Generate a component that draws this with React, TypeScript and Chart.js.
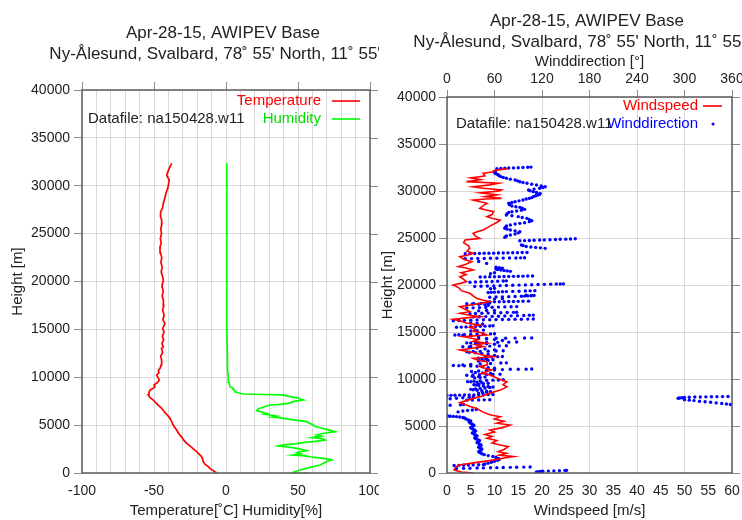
import React, { useEffect, useRef } from 'react';
import { Chart, registerables } from 'chart.js';

Chart.register(...registerables);

const FONT_FAMILY = '"Liberation Sans", Arial, Helvetica, sans-serif';
const TEXT = '#222222';
const GRID = '#d8d8d8';
const TICK = '#8a8a8a';
const FRAME = '#5c5c5c';

// ---------- tick values ----------
const heightTickValues = [0, 5000, 10000, 15000, 20000, 25000, 30000, 35000, 40000];
const tempHumidTickLabels = [-100, -50, 0, 50, 100];
const tempHumidGridValues = [-100, -90, -80, -70, -60, -50, -40, -30, -20, -10, 0, 10, 20, 30, 40, 50, 60, 70, 80, 90, 100];
const windSpeedTickValues = [0, 5, 10, 15, 20, 25, 30, 35, 40, 45, 50, 55, 60];
const windDirTickValues = [0, 60, 120, 180, 240, 300, 360];

// ---------- series: [height m, value] ----------
const temperatureProfile: [number, number][] = [
  [0, -6.5], [150, -8], [300, -9.5], [450, -11], [660, -12.3], [900, -14.5], [1180, -15.8], [1450, -16.2],
  [1700, -16.9], [1950, -18.5], [2230, -20.4], [2500, -22.5], [2800, -24.8], [3100, -27.3], [3400, -29.2],
  [3800, -31], [4100, -32.8], [4490, -34.3], [4800, -35.8], [5100, -37], [5400, -37.8], [5710, -38.9],
  [6000, -40.5], [6300, -42.3], [6760, -44.7], [7000, -46.5], [7300, -48.5], [7620, -50.5], [7850, -52.5],
  [8150, -54], [8400, -53.5], [8670, -52.8], [8850, -50.5], [9020, -49.3], [9200, -50], [9400, -48],
  [9710, -46.3], [9900, -47], [10230, -48.1], [10500, -46.5], [10700, -47], [10930, -45.8], [11300, -45],
  [11800, -44.7], [12200, -45.3], [12600, -44], [13000, -44.8], [13190, -43.5], [13500, -44.5], [13900, -43.3],
  [14300, -44.2], [14700, -43], [15100, -44], [15630, -42.4], [16000, -43.8], [16500, -43], [17000, -44],
  [17500, -43.2], [18070, -43.5], [18500, -44.3], [19000, -43.6], [19500, -44.5], [20160, -43.5], [20500, -44],
  [21000, -45], [21500, -44.3], [22000, -45.2], [22500, -44.6], [23000, -45.5], [23630, -45.8], [24000, -45],
  [24500, -45.6], [25000, -44.8], [25500, -45.3], [26000, -44.5], [26420, -44.7], [26800, -45.5], [27290, -45.4],
  [27700, -44], [28200, -43.5], [28700, -42.5], [29210, -41.7], [29700, -40.5], [30100, -40], [30600, -39.4],
  [30900, -40.5], [31120, -41.2], [31400, -40.5], [31820, -39.4], [32100, -38.5], [32340, -37.7],
];

const humidityProfile: [number, number][] = [
  [0, 58], [20, 46], [150, 48], [310, 51.4], [450, 55], [650, 60], [840, 65.3], [1050, 68], [1200, 70],
  [1360, 73.4], [1450, 71], [1550, 66], [1700, 58.3], [1780, 55], [1880, 46.7], [1980, 52], [2100, 49],
  [2200, 51], [2330, 56], [2450, 53], [2580, 49], [2700, 44], [2820, 36.3], [2950, 40], [3050, 48],
  [3200, 55], [3300, 62], [3450, 68.8], [3600, 67], [3700, 60], [3850, 66], [3970, 63], [4150, 68],
  [4320, 75.7], [4550, 70], [4700, 66], [4850, 62], [5010, 60.6], [5200, 58], [5360, 56], [5450, 52],
  [5540, 46.7], [5650, 42], [5750, 38], [5850, 32], [5950, 35.2], [6060, 30.6], [6150, 26.5], [6230, 28.2],
  [6300, 26], [6400, 24], [6510, 21.3], [6650, 22], [6760, 23.6], [6950, 27], [7100, 30.6], [7150, 36],
  [7270, 43.3], [7350, 45], [7450, 46.7], [7500, 48], [7620, 53.7], [7700, 52], [7850, 50], [7970, 44.4],
  [8050, 42], [8150, 39.8], [8200, 25], [8250, 12], [8350, 9], [8490, 6.25], [8700, 5.5], [8850, 5],
  [9010, 2.8], [9500, 2], [10060, 1.6], [10750, 1], [11800, 1], [15000, 0.6], [20000, 0.6], [25000, 0.5],
  [30000, 0.5], [32340, 0.5],
];

const windSpeedProfile: [number, number][] = [
  [0, 5.5], [100, 3], [320, 1.5], [600, 1.8], [850, 2.5], [1100, 6], [1400, 10], [1600, 12], [1740, 14],
  [1900, 11], [2100, 12.5], [2270, 10.8], [2500, 12], [2800, 12.9], [3000, 11], [3200, 9.5], [3450, 10.5],
  [3690, 8.4], [3900, 9.5], [4100, 8], [4350, 10], [4570, 9], [4800, 11.5], [5100, 13.3], [5300, 10.5],
  [5500, 12], [5750, 10], [5990, 11.2], [6200, 9], [6500, 7.5], [6880, 6.2], [7050, 5], [7230, 4.1],
  [7480, 2.7], [7700, 4], [7940, 5.5], [8200, 7.5], [8480, 9], [8650, 10], [8830, 11.2], [9000, 12],
  [9180, 12.6], [9400, 11.8], [9710, 12.6], [9890, 11.5], [10100, 10.5], [10430, 9], [10600, 7.3],
  [10800, 8.5], [10960, 9.4], [11150, 8], [11310, 6.9], [11500, 8.5], [11840, 8.4], [12000, 6.5],
  [12200, 5.5], [12370, 9.8], [12550, 7.5], [12730, 6.2], [12900, 4.5], [13090, 2.7], [13250, 5],
  [13450, 7.6], [13650, 6], [13800, 8.4], [14000, 5.5], [14200, 6.5], [14500, 3.4], [14680, 8.4],
  [14900, 7.5], [15100, 5.5], [15300, 6], [15500, 4.8], [15740, 6.9], [15950, 4], [16150, 3], [16350, 1.3],
  [16500, 4], [16630, 6.9], [16800, 4.5], [16990, 2.7], [17160, 4.8], [17340, 4.1], [17500, 3.5],
  [17700, 2.7], [17950, 6], [18230, 9], [18400, 7.5], [18580, 6.2], [18850, 5.5], [19120, 4.8], [19400, 3],
  [19700, 2.5], [20000, 1.3], [20200, 3], [20350, 4.1], [20600, 3.5], [20880, 2.7], [21100, 4], [21300, 3],
  [21600, 5.5], [21800, 4], [21950, 2.4], [22200, 4], [22480, 5.2], [22750, 3.5], [23010, 2.7], [23200, 4.5],
  [23370, 5.5], [23600, 4.2], [23900, 4.8], [24200, 4.5], [24500, 3.5], [24790, 3.8], [24960, 6.9],
  [25200, 6], [25500, 5.5], [25700, 6.5], [25850, 7.6], [26100, 8.5], [26400, 9.5], [26650, 10.5],
  [26910, 11.2], [27100, 9.5], [27270, 8.4], [27500, 9.5], [27800, 9.8], [28000, 8], [28160, 6.9],
  [28400, 7.5], [28690, 8.4], [28850, 7], [29040, 5.5], [29150, 8], [29220, 11.5], [29400, 8],
  [29600, 10.5], [29800, 7], [30000, 11], [30110, 11.5], [30290, 7.6], [30450, 5.5], [30650, 9],
  [30820, 10.8], [31000, 4.1], [31200, 7], [31400, 5], [31600, 8], [31880, 7.6], [32050, 9.8],
  [32160, 9.8], [32410, 12.9],
];

const windDirectionProfile: [number, number][] = [
  [100, 113], [120, 115], [140, 117], [160, 119], [180, 121], [200, 128], [220, 135], [240, 142], [260, 149], [280, 151],
  [480, 12], [495, 21], [510, 29], [525, 38], [540, 46], [555, 55], [570, 63], [585, 71], [600, 80], [615, 88], [630, 97], [645, 105],
  [800, 9], [815, 15], [830, 21], [845, 27], [860, 33], [875, 40], [890, 46],
  [950, 48], [1050, 52], [1150, 56], [1250, 60], [1350, 64], [1450, 66], [1550, 65], [1650, 62], [1750, 58],
  [1850, 52], [1950, 47], [2050, 44], [2150, 42], [2250, 40], [2350, 41], [2450, 43], [2550, 44], [2650, 42],
  [2750, 40], [2850, 41], [2950, 43], [3050, 42], [3150, 40], [3250, 38], [3350, 40], [3450, 41], [3550, 39],
  [3650, 36], [3750, 35], [3850, 37], [3950, 38], [4050, 36], [4150, 34], [4250, 32], [4350, 34], [4450, 36],
  [4550, 35], [4650, 33], [4750, 31], [4850, 30], [4950, 32], [5050, 34], [5150, 33], [5250, 31], [5350, 29],
  [5450, 28], [5550, 30], [5650, 27], [5750, 24], [5850, 22],
  [5900, 20], [5950, 16], [6000, 12], [6020, 8], [6040, 4], [6060, 1],
  [6500, 14], [6600, 20], [6650, 26], [6700, 32], [6750, 37],
  [7200, 4], [7250, 17], [7280, 21],
  [7280, 358], [7340, 353], [7400, 347], [7460, 340], [7520, 333], [7580, 326], [7640, 319], [7700, 312], [7750, 306], [7800, 300],
  [7950, 292], [7980, 294], [8010, 297], [8040, 300], [8060, 306], [8080, 313], [8090, 320], [8100, 327], [8110, 334], [8120, 341], [8130, 348], [8140, 355],
  [7750, 25], [7760, 32], [7770, 40], [7780, 47], [7790, 54],
  [7900, 4], [7950, 12], [8000, 20], [8050, 28], [8100, 33],
  [8250, 0], [8260, 5], [8270, 10], [8280, 16], [8290, 22], [8300, 28], [8310, 34], [8320, 40], [8330, 46], [8340, 52], [8350, 58],
  [8500, 40], [8550, 45], [8600, 50], [8650, 55], [8700, 50], [8750, 44], [8800, 38], [8850, 33], [8900, 30], [8950, 36],
  [9000, 42], [9050, 48], [9100, 54], [9150, 58], [9200, 52], [9250, 46], [9300, 40], [9350, 36], [9400, 34], [9450, 40],
  [9500, 46], [9550, 52], [9600, 44], [9650, 38], [9700, 30], [9720, 26], [9750, 34], [9800, 42], [9850, 50], [9880, 58],
  [9900, 65], [9920, 71],
  [10100, 35], [10150, 42], [10200, 48], [10250, 40], [10300, 32], [10400, 25], [10430, 33], [10450, 41], [10470, 50],
  [10490, 58], [10500, 67], [10600, 55], [10650, 45], [10700, 36], [10800, 31], [10850, 40], [10900, 50], [10950, 60],
  [11000, 70], [11030, 80], [11040, 90], [11050, 100], [11060, 107], [11150, 60], [11200, 52], [11300, 45], [11350, 38],
  [11380, 30], [11400, 22], [11420, 15], [11440, 8], [11500, 20], [11550, 30], [11600, 42], [11650, 55], [11700, 68], [11720, 75],
  [11900, 40], [11950, 46], [12000, 52], [12050, 58], [12100, 50], [12150, 44], [12200, 40], [12300, 48], [12350, 56],
  [12380, 64], [12400, 70], [12500, 60], [12600, 52], [12700, 44], [12800, 36], [12850, 28], [12900, 25], [12920, 33],
  [12940, 42], [12960, 52], [12980, 62], [13000, 71], [13100, 60], [13200, 48], [13300, 38], [13400, 28], [13440, 20],
  [13460, 30], [13480, 42], [13500, 54], [13520, 66], [13540, 75], [13700, 60], [13750, 50], [13800, 40], [13820, 30],
  [13840, 25], [13860, 36], [13880, 50], [13900, 64], [13920, 78], [13940, 88], [14100, 70], [14200, 60], [14250, 50],
  [14300, 40], [14320, 50], [14330, 62], [14340, 74], [14350, 86], [14360, 98], [14370, 107], [14500, 40], [14600, 30],
  [14650, 20], [14680, 10], [14700, 15], [14720, 22], [14740, 30], [14760, 38], [14780, 46], [14800, 55], [14820, 60],
  [15100, 30], [15150, 38], [15200, 46],
  [15500, 12], [15520, 18], [15540, 24], [15560, 30], [15580, 36], [15600, 42], [15620, 48], [15640, 54], [15660, 58],
  [15850, 45], [15900, 38], [15950, 30],
  [16200, 8], [16220, 15], [16240, 22], [16260, 30], [16280, 38], [16300, 46], [16310, 54], [16320, 62], [16330, 70],
  [16340, 78], [16350, 86], [16360, 94], [16370, 102], [16380, 109],
  [16600, 33], [16620, 41], [16640, 49], [16660, 57], [16680, 65], [16700, 73], [16720, 81], [16740, 89], [16760, 97],
  [16780, 104], [16800, 109],
  [16950, 29], [16970, 36], [16990, 44], [17010, 52], [17030, 60], [17050, 68], [17070, 76], [17090, 84], [17100, 88],
  [17250, 40], [17280, 50], [17300, 60],
  [17550, 25], [17570, 33], [17590, 41], [17610, 49], [17630, 57], [17650, 65], [17670, 73], [17690, 81], [17700, 88],
  [17850, 52], [17900, 48], [17950, 40], [17980, 32], [18000, 25], [18020, 34], [18040, 43], [18060, 52], [18080, 54],
  [18200, 54], [18210, 60], [18220, 66], [18230, 72], [18240, 78], [18250, 84], [18260, 90], [18270, 96], [18280, 103],
  [18500, 60], [18550, 70],
  [18700, 54], [18720, 62], [18740, 70], [18760, 78], [18780, 86], [18800, 94], [18820, 98], [18840, 102], [18860, 106],
  [18880, 110], [18900, 107], [18920, 100],
  [19200, 52], [19220, 56], [19240, 60], [19260, 65], [19280, 70], [19300, 75], [19320, 83], [19340, 91], [19360, 99],
  [19380, 105], [19400, 111],
  [19600, 55], [19650, 60],
  [19850, 35], [19870, 43], [19890, 51], [19910, 59], [19930, 67], [19950, 75], [19970, 83], [19990, 91], [20010, 99],
  [20030, 107], [20050, 115], [20070, 123], [20090, 131], [20100, 138], [20110, 143], [20120, 147],
  [20300, 29], [20320, 36], [20340, 43], [20360, 50], [20380, 57], [20400, 64], [20420, 71], [20440, 75],
  [20850, 42], [20860, 48], [20870, 54], [20880, 60], [20890, 66], [20900, 72], [20910, 78], [20920, 84], [20930, 90],
  [20940, 96], [20950, 102], [20960, 108],
  [21200, 55], [21300, 60],
  [21450, 80], [21500, 76], [21550, 72], [21600, 68], [21650, 64], [21700, 62], [21750, 66], [21800, 70], [21850, 66], [21900, 62],
  [22300, 50], [22500, 40],
  [22800, 23], [22810, 31], [22820, 39], [22830, 47], [22840, 55], [22850, 63], [22860, 71], [22870, 79], [22880, 87],
  [22890, 93], [22900, 98],
  [23330, 23], [23340, 29], [23350, 35], [23360, 41], [23370, 47], [23380, 53], [23390, 59], [23400, 65], [23410, 71],
  [23420, 77], [23430, 83], [23440, 89], [23450, 95], [23460, 101],
  [23900, 124], [23950, 118], [24000, 112], [24050, 106], [24100, 100], [24200, 96], [24260, 94],
  [24700, 92], [24720, 98], [24740, 104], [24760, 110], [24780, 117], [24800, 123], [24820, 130], [24840, 137],
  [24860, 143], [24880, 150], [24900, 156], [24920, 162],
  [25070, 73], [25140, 74], [25210, 75], [25320, 80], [25430, 86], [25550, 90], [25670, 92], [25760, 86], [25850, 80],
  [25940, 76], [26030, 73], [26150, 74], [26280, 75], [26380, 80], [26490, 86], [26560, 92], [26630, 98], [26740, 104],
  [26840, 107], [26960, 104], [27090, 101], [27180, 95], [27270, 90], [27360, 82], [27450, 75], [27590, 76], [27730, 78],
  [27800, 82], [27870, 88], [27960, 94], [28050, 98], [28160, 95], [28260, 92], [28330, 87], [28400, 82], [28540, 79],
  [28690, 78], [28770, 82], [28860, 86], [28950, 91], [29040, 96], [29150, 100], [29220, 104], [29300, 107], [29400, 109],
  [29500, 112], [29580, 115], [29660, 117], [29750, 117.5], [29840, 113], [29930, 109], [30020, 105], [30110, 103],
  [30200, 110], [30290, 117], [30370, 121], [30460, 124], [30550, 119], [30640, 113], [30730, 107], [30820, 101],
  [30900, 96], [30990, 92], [31080, 89], [31170, 86], [31260, 80], [31350, 75], [31440, 71], [31530, 68], [31620, 66],
  [31700, 65], [31790, 63], [31880, 61], [31960, 60], [32050, 61],
  [32380, 63], [32400, 68], [32420, 73], [32440, 78], [32460, 84], [32480, 90], [32500, 96], [32520, 102], [32540, 106],
];

// ---------- plugins ----------
const framePlugin = {
  id: 'frame',
  afterDatasetsDraw(chart: any, _args: any, opts: any) {
    const { ctx, chartArea: a } = chart;
    ctx.save();
    ctx.strokeStyle = TICK;
    ctx.lineWidth = 1;
    if (opts.topTicks) {
      const sx = chart.scales.x;
      opts.topTicks.forEach((v: number) => {
        const px = Math.round(sx.getPixelForValue(v)) + 0.5;
        ctx.beginPath();
        ctx.moveTo(px, a.top);
        ctx.lineTo(px, a.top - 8);
        ctx.stroke();
      });
    }
    if (opts.rightTicks) {
      const sy = chart.scales.y;
      opts.rightTicks.forEach((v: number) => {
        const py = Math.round(sy.getPixelForValue(v)) + 0.5;
        ctx.beginPath();
        ctx.moveTo(a.right, py);
        ctx.lineTo(a.right + 8, py);
        ctx.stroke();
      });
    }
    ctx.strokeStyle = FRAME;
    ctx.lineWidth = 1.5;
    ctx.strokeRect(a.left, a.top, a.right - a.left, a.bottom - a.top);
    ctx.restore();
  },
};

const annotatePlugin = {
  id: 'annotate',
  afterDraw(chart: any, _args: any, opts: any) {
    const { ctx } = chart;
    ctx.save();
    ctx.textBaseline = 'middle';
    (opts.texts || []).forEach((t: any) => {
      ctx.font = `${t.size}px ${FONT_FAMILY}`;
      ctx.fillStyle = t.color || TEXT;
      ctx.textAlign = t.align || 'center';
      ctx.fillText(t.text, t.x, t.y);
    });
    (opts.lines || []).forEach((l: any) => {
      ctx.strokeStyle = l.color;
      ctx.lineWidth = 1.6;
      ctx.beginPath();
      ctx.moveTo(l.x1, l.y);
      ctx.lineTo(l.x2, l.y);
      ctx.stroke();
    });
    (opts.dots || []).forEach((d: any) => {
      ctx.fillStyle = d.color;
      ctx.beginPath();
      ctx.arc(d.x, d.y, 1.5, 0, Math.PI * 2);
      ctx.fill();
    });
    ctx.restore();
  },
};

const tickFont = { family: FONT_FAMILY, size: 14 };
const titleFont = { family: FONT_FAMILY, size: 15 };
const plainLabel = (v: number) => String(Math.round(v));

function heightAxis(width: number, titlePad: number, labelPad: number) {
  return {
    type: 'linear',
    min: 0,
    max: 40000,
    afterBuildTicks: (s: any) => { s.ticks = heightTickValues.map((v) => ({ value: v })); },
    ticks: { font: tickFont, color: TEXT, padding: labelPad, autoSkip: false, callback: plainLabel },
    grid: { color: GRID, lineWidth: 1, drawTicks: true, tickLength: 8, tickColor: TICK, tickWidth: 1 },
    border: { display: false },
    title: { display: true, text: 'Height [m]', font: titleFont, color: TEXT, padding: { top: titlePad, bottom: 0 } },
    afterFit: (s: any) => { s.width = width; s.paddingTop = 0; s.paddingBottom = 0; },
  };
}

function leftConfig(): any {
  return {
    type: 'scatter',
    data: {
      datasets: [
        {
          label: 'Temperature',
          data: temperatureProfile.map(([h, t]) => ({ x: t, y: h })),
          showLine: true, borderColor: '#ff0000', borderWidth: 1.7, pointRadius: 0, tension: 0,
        },
        {
          label: 'Humidity',
          data: humidityProfile.map(([h, r]) => ({ x: r, y: h })),
          showLine: true, borderColor: '#00ff00', borderWidth: 1.7, pointRadius: 0, tension: 0,
        },
      ],
    },
    options: {
      responsive: false,
      animation: false,
      devicePixelRatio: 1,
      layout: { padding: { top: 90, right: 9, left: 0, bottom: 0 } },
      plugins: {
        legend: { display: false },
        tooltip: { enabled: false },
        frame: { topTicks: tempHumidTickLabels, rightTicks: heightTickValues },
        annotate: {
          texts: [
            { text: 'Apr-28-15, AWIPEV Base', x: 223, y: 33, size: 17 },
            { text: 'Ny-Ålesund, Svalbard, 78˚ 55\' North, 11˚ 55\' E', x: 223, y: 54, size: 17 },
            { text: 'Temperature', x: 321, y: 101, size: 15, align: 'right', color: '#ff0000' },
            { text: 'Humidity', x: 321, y: 119, size: 15, align: 'right', color: '#00e000' },
            { text: 'Datafile: na150428.w11', x: 88, y: 119, size: 15, align: 'left', color: TEXT },
          ],
          lines: [
            { x1: 332, x2: 360, y: 101, color: '#ff0000' },
            { x1: 332, x2: 360, y: 119, color: '#00ff00' },
          ],
        },
      },
      scales: {
        x: {
          type: 'linear',
          min: -100,
          max: 100,
          afterBuildTicks: (s: any) => { s.ticks = tempHumidGridValues.map((v) => ({ value: v })); },
          ticks: {
            font: tickFont, color: TEXT, padding: 10, autoSkip: false, maxRotation: 0,
            callback: (v: number) => (tempHumidTickLabels.includes(Math.round(v)) ? String(Math.round(v)) : ''),
          },
          grid: { color: GRID, lineWidth: 1, drawTicks: false },
          border: { display: false },
          title: { display: true, text: 'Temperature[˚C] Humidity[%]', font: titleFont, color: TEXT, padding: { top: 0, bottom: 0 } },
          afterFit: (s: any) => { s.height = 47; s.paddingLeft = 0; s.paddingRight = 0; },
        },
        y: heightAxis(82, 9, 4),
      },
    },
    plugins: [framePlugin, annotatePlugin],
  };
}

function rightConfig(): any {
  return {
    type: 'scatter',
    data: {
      datasets: [
        {
          label: 'Windspeed',
          data: windSpeedProfile.map(([h, w]) => ({ x: w, y: h })),
          xAxisID: 'x',
          showLine: true, borderColor: '#ff0000', borderWidth: 1.6, pointRadius: 0, tension: 0,
        },
        {
          label: 'Winddirection',
          data: windDirectionProfile.map(([h, d]) => ({ x: d, y: h })),
          xAxisID: 'x2',
          showLine: false, pointRadius: 1.7, pointBorderWidth: 0, backgroundColor: '#0000ff', borderColor: '#0000ff',
        },
      ],
    },
    options: {
      responsive: false,
      animation: false,
      devicePixelRatio: 1,
      layout: { padding: { top: 47, right: 10, left: 0, bottom: 0 } },
      plugins: {
        legend: { display: false },
        tooltip: { enabled: false },
        frame: { rightTicks: heightTickValues },
        annotate: {
          texts: [
            { text: 'Apr-28-15, AWIPEV Base', x: 208, y: 21, size: 17 },
            { text: 'Ny-Ålesund, Svalbard, 78˚ 55\' North, 11˚ 55\' E', x: 208, y: 42, size: 17 },
            { text: 'Windspeed', x: 319, y: 106, size: 15, align: 'right', color: '#ff0000' },
            { text: 'Winddirection', x: 319, y: 124, size: 15, align: 'right', color: '#0000ff' },
            { text: 'Datafile: na150428.w11', x: 77, y: 124, size: 15, align: 'left', color: TEXT },
          ],
          lines: [{ x1: 324, x2: 343, y: 106, color: '#ff0000' }],
          dots: [{ x: 334, y: 124, color: '#0000ff' }],
        },
      },
      scales: {
        x: {
          type: 'linear',
          position: 'bottom',
          min: 0,
          max: 60,
          afterBuildTicks: (s: any) => { s.ticks = windSpeedTickValues.map((v) => ({ value: v })); },
          ticks: { font: tickFont, color: TEXT, padding: 10, autoSkip: false, maxRotation: 0, callback: plainLabel },
          grid: {
            color: (c: any) => (c.tick && Math.round(c.tick.value) % 10 === 0 ? GRID : 'rgba(0,0,0,0)'),
            lineWidth: 1, drawTicks: false,
          },
          border: { display: false },
          title: { display: true, text: 'Windspeed [m/s]', font: titleFont, color: TEXT, padding: { top: 0, bottom: 0 } },
          afterFit: (s: any) => { s.height = 47; s.paddingLeft = 0; s.paddingRight = 0; },
        },
        x2: {
          type: 'linear',
          position: 'top',
          min: 0,
          max: 360,
          afterBuildTicks: (s: any) => { s.ticks = windDirTickValues.map((v) => ({ value: v })); },
          ticks: { font: tickFont, color: TEXT, padding: 2, autoSkip: false, maxRotation: 0, callback: plainLabel },
          grid: { drawOnChartArea: false, drawTicks: true, tickLength: 7, tickColor: TICK },
          border: { display: false },
          title: { display: true, text: 'Winddirection [°]', font: titleFont, color: TEXT, padding: { top: 6, bottom: 0 } },
          afterFit: (s: any) => { s.height = 50; s.paddingLeft = 0; s.paddingRight = 0; },
        },
        y: heightAxis(68, 0, 3),
      },
    },
    plugins: [framePlugin, annotatePlugin],
  };
}

export default function App() {
  const leftRef = useRef<HTMLCanvasElement>(null);
  const rightRef = useRef<HTMLCanvasElement>(null);

  useEffect(() => {
    const left = new Chart(leftRef.current as HTMLCanvasElement, leftConfig());
    const right = new Chart(rightRef.current as HTMLCanvasElement, rightConfig());
    return () => {
      left.destroy();
      right.destroy();
    };
  }, []);

  return (
    <div style={{ position: 'fixed', left: 0, top: 0, width: 742, height: 520, background: '#ffffff', overflow: 'hidden' }}>
      <canvas ref={leftRef} width={379} height={520} style={{ position: 'absolute', left: 0, top: 0, width: 379, height: 520 }} />
      <canvas ref={rightRef} width={363} height={520} style={{ position: 'absolute', left: 379, top: 0, width: 363, height: 520 }} />
    </div>
  );
}
